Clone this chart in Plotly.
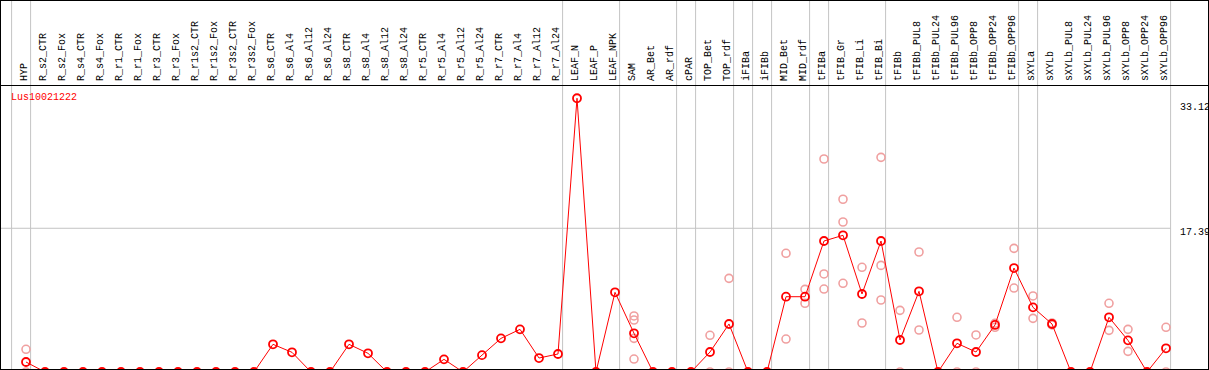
import plotly.graph_objects as go

# ---------------- data ----------------
categories = [
    "HYP", "R_s2_CTR", "R_s2_Fox", "R_s4_CTR", "R_s4_Fox", "R_r1_CTR", "R_r1_Fox",
    "R_r3_CTR", "R_r3_Fox", "R_r1s2_CTR", "R_r1s2_Fox", "R_r3s2_CTR", "R_r3s2_Fox",
    "R_s6_CTR", "R_s6_Al4", "R_s6_Al12", "R_s6_Al24", "R_s8_CTR", "R_s8_Al4",
    "R_s8_Al12", "R_s8_Al24", "R_r5_CTR", "R_r5_Al4", "R_r5_Al12", "R_r5_Al24",
    "R_r7_CTR", "R_r7_Al4", "R_r7_Al12", "R_r7_Al24", "LEAF_N", "LEAF_P", "LEAF_NPK",
    "SAM", "AR_Bet", "AR_rdf", "cPAR", "TOP_Bet", "TOP_rdf", "iFIBa", "iFIBb",
    "MID_Bet", "MID_rdf", "tFIBa", "tFIB_Gr", "tFIB_Li", "tFIB_Bi", "tFIBb",
    "tFIBb_PUL8", "tFIBb_PUL24", "tFIBb_PUL96", "tFIBb_OPP8", "tFIBb_OPP24",
    "tFIBb_OPP96", "sXYLa", "sXYLb", "sXYLb_PUL8", "sXYLb_PUL24", "sXYLb_PUL96",
    "sXYLb_OPP8", "sXYLb_OPP24", "sXYLb_OPP96",
]

mean_values = [
    1.21,
    0, 0, 0, 0, 0, 0, 0, 0, 0, 0, 0, 0,
    3.35, 2.38, 0, 0, 3.35, 2.26, 0, 0,
    0, 1.53, 0, 2.04, 4.07, 5.16, 1.69, 2.18,
    33.12, 0, 9.64,
    4.68, 0, 0, 0, 2.42, 5.81, 0, 0,
    9.11, 9.11, 15.85, 16.54, 9.44, 15.85, 3.87,
    9.76, 0, 3.47, 2.42, 5.69, 12.58,
    7.82, 5.81, 0, 0, 6.62, 3.83, 0, 2.87,
]

rep_categories = [
    "HYP", "HYP",
    "SAM", "SAM", "SAM", "SAM",
    "TOP_Bet", "TOP_Bet", "TOP_rdf", "TOP_rdf",
    "MID_Bet", "MID_Bet", "MID_rdf", "MID_rdf",
    "tFIBa", "tFIBa", "tFIBa",
    "tFIB_Gr", "tFIB_Gr", "tFIB_Gr",
    "tFIB_Li", "tFIB_Li",
    "tFIB_Bi", "tFIB_Bi", "tFIB_Bi",
    "tFIBb", "tFIBb", "tFIBb_PUL8", "tFIBb_PUL8",
    "tFIBb_PUL96", "tFIBb_PUL96", "tFIBb_OPP8", "tFIBb_OPP8",
    "tFIBb_OPP24", "tFIBb_OPP24", "tFIBb_OPP96", "tFIBb_OPP96",
    "sXYLa", "sXYLa", "sXYLb", "sXYLb",
    "sXYLb_PUL96", "sXYLb_PUL96", "sXYLb_OPP8", "sXYLb_OPP8",
    "sXYLb_OPP96", "sXYLb_OPP96",
]
rep_values = [
    2.75, 0,
    6.78, 6.29, 4.07, 1.57,
    4.44, 0, 11.33, 0,
    14.36, 3.99, 10.0, 8.31,
    25.77, 11.86, 10.04,
    20.9, 18.15, 10.73,
    12.67, 5.93,
    25.97, 12.9, 8.71,
    7.46, 0, 14.52, 5.08,
    6.62, 0, 4.48, 0,
    5.89, 5.41, 14.96, 10.16,
    9.2, 6.49, 5.93, 5.69,
    8.31, 5.04, 5.16, 2.5,
    5.41, 0,
]

y_tick_values = [33.12, 17.39, 0]
y_tick_labels = ["33.12", "17.39", "0"]
grid_value = 17.39
separator_after = ["", "HYP", "R_r7_Al24", "LEAF_NPK", "AR_rdf", "cPAR", "TOP_rdf",
                   "iFIBa", "iFIBb", "MID_rdf", "tFIBa", "tFIB_Bi", "tFIBb_OPP96",
                   "sXYLa", "sXYLb_OPP96"]
gene_name = "Lus10021222"

# ---------------- layout constants ----------------
W, H = 1209, 370
X0_PX, STEP_PX = 26.0, 19.0          # pixel of first category, spacing
ZERO_PX, PX_PER_UNIT = 372.0, 8.265  # pixel row of value 0, scale
SEP_OFF = 4.6 / STEP_PX
FONT = "Liberation Mono"

x_idx = list(range(len(categories)))
rep_x = [categories.index(c) for c in rep_categories]
sep_x = [(categories.index(c) if c else -1) + SEP_OFF for c in separator_after]

x_range = [-X0_PX / STEP_PX, (W - X0_PX) / STEP_PX]
y_range = [(ZERO_PX - H) / PX_PER_UNIT, ZERO_PX / PX_PER_UNIT]


def py(p):  # pixel row -> paper y
    return 1 - p / H


def px(p):  # pixel col -> paper x
    return p / W


fig = go.Figure()
fig.add_trace(go.Scatter(
    x=rep_x, y=rep_values, mode="markers",
    marker=dict(symbol="circle-open", size=8, color="#f0a0a0", line=dict(width=1.6)),
    hoverinfo="skip", showlegend=False,
))
fig.add_trace(go.Scatter(
    x=x_idx, y=mean_values, mode="lines+markers",
    line=dict(color="#ff0000", width=1),
    marker=dict(symbol="circle-open", size=8, color="#ff0000", line=dict(width=1.8)),
    showlegend=False,
))

shapes = []
for xs in sep_x:
    shapes.append(dict(type="line", xref="x", yref="paper", x0=xs, x1=xs, y0=0, y1=1,
                       line=dict(color="#c4c4c4", width=1), layer="below"))
shapes.append(dict(type="line", xref="x", yref="y", x0=x_range[0], x1=sep_x[-1],
                   y0=grid_value, y1=grid_value,
                   line=dict(color="#c4c4c4", width=1), layer="below"))
for p in (0.5, 85.5, 369.5):
    shapes.append(dict(type="line", xref="paper", yref="paper", x0=0, x1=1, y0=py(p), y1=py(p),
                       line=dict(color="#000000", width=1)))
for p in (0.5, 1208.5):
    shapes.append(dict(type="line", xref="paper", yref="paper", x0=px(p), x1=px(p), y0=0, y1=1,
                       line=dict(color="#000000", width=1)))

annotations = []
for i, c in enumerate(categories):
    annotations.append(dict(x=i, xref="x", y=py(83), yref="paper", text=c, showarrow=False,
                            textangle=-90, xanchor="center", yanchor="bottom", xshift=-2,
                            font=dict(family=FONT, size=10, color="#000000")))
annotations.append(dict(x=px(9), xref="paper", y=py(97), yref="paper", text=gene_name,
                        showarrow=False, xanchor="left", yanchor="middle",
                        font=dict(family=FONT, size=10, color="#ff0000")))
label_shift = [-9, -4, 10]
for v, t, s in zip(y_tick_values, y_tick_labels, label_shift):
    annotations.append(dict(x=px(1178), xref="paper", y=v, yref="y", text=t, showarrow=False,
                            xanchor="left", yanchor="middle", yshift=s,
                            font=dict(family=FONT, size=10, color="#000000")))

fig.update_layout(
    width=W, height=H, margin=dict(l=0, r=0, t=0, b=0, pad=0),
    paper_bgcolor="white", plot_bgcolor="white",
    xaxis=dict(range=x_range, visible=False, fixedrange=True),
    yaxis=dict(range=y_range, visible=False, fixedrange=True),
    shapes=shapes, annotations=annotations, showlegend=False,
)

fig.write_html("out.html", config={"displayModeBar": False},
               post_script="document.body.style.margin='0';document.body.style.overflow='hidden';")
